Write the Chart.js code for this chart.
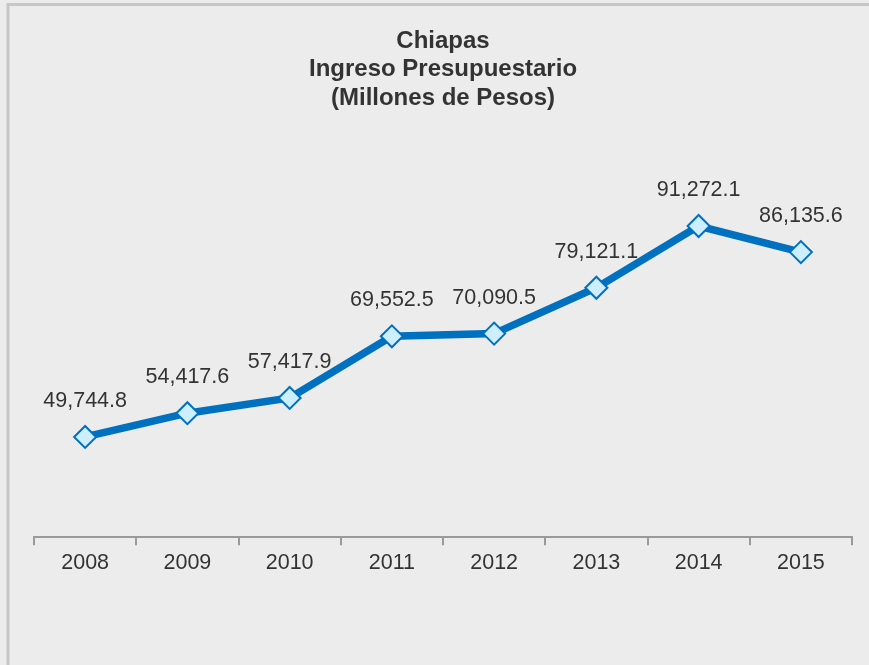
<!DOCTYPE html>
<html>
<head>
<meta charset="utf-8">
<script src="https://cdn.jsdelivr.net/npm/chart.js@4.4.1/dist/chart.umd.min.js"></script>
<style>
  html, body { margin: 0; padding: 0; background: #ececec; }
  #wrap { width: 869px; height: 665px; }
</style>
</head>
<body>
<div id="wrap"><canvas id="chiapas_chart" width="869" height="665"></canvas></div>
<script>
const years = ["2008", "2009", "2010", "2011", "2012", "2013", "2014", "2015"];
const ingreso = [49744.8, 54417.6, 57417.9, 69552.5, 70090.5, 79121.1, 91272.1, 86135.6];
const titleLines = ["Chiapas", "Ingreso Presupuestario", "(Millones de Pesos)"];

// fondo gris y marco
const frame = {
  id: "frame",
  beforeDraw(chart) {
    const ctx = chart.ctx;
    ctx.save();
    ctx.fillStyle = "#ececec";
    ctx.fillRect(0, 0, chart.width, chart.height);
    ctx.strokeStyle = "#c6c6c6";
    ctx.lineWidth = 3;
    ctx.strokeRect(8, 4.5, chart.width + 20, chart.height + 20);
    ctx.restore();
  }
};

// etiquetas de valor sobre cada punto
const valueLabels = {
  id: "valueLabels",
  afterDatasetsDraw(chart) {
    const ctx = chart.ctx;
    const meta = chart.getDatasetMeta(0);
    ctx.save();
    ctx.font = "21.5px 'Liberation Sans', Arial, sans-serif";
    ctx.fillStyle = "#333333";
    ctx.textAlign = "center";
    ctx.textBaseline = "middle";
    meta.data.forEach((pt, i) => {
      const v = ingreso[i].toLocaleString("en-US", {minimumFractionDigits: 1, maximumFractionDigits: 1});
      ctx.fillText(v, pt.x, pt.y - 36);
    });
    ctx.restore();
  }
};

new Chart("chiapas_chart", {
  type: "line",
  data: {
    labels: years,
    datasets: [{
      data: ingreso,
      borderColor: "#0070c0",
      borderWidth: 7.5,
      tension: 0,
      pointStyle: "rectRot",
      pointRadius: 11,
      pointHoverRadius: 11,
      pointBackgroundColor: "#cdeefc",
      pointBorderColor: "#0070c0",
      pointBorderWidth: 2
    }]
  },
  options: {
    responsive: false,
    animation: false,
    layout: { padding: { left: 34, right: 17, top: 0, bottom: 84 } },
    plugins: {
      legend: { display: false },
      tooltip: { enabled: false },
      title: {
        display: true,
        text: titleLines,
        color: "#333333",
        font: { family: "'Liberation Sans', Arial, sans-serif", size: 24, weight: "bold", lineHeight: 1.19 },
        padding: { top: 27, bottom: 69 }
      }
    },
    scales: {
      x: {
        offset: true,
        border: { display: true, color: "#9a9a9a", width: 2 },
        grid: { display: true, offset: true, drawOnChartArea: false, drawTicks: true, tickLength: 8, color: "#9a9a9a", lineWidth: 2 },
        ticks: { color: "#333333", padding: 5, font: { family: "'Liberation Sans', Arial, sans-serif", size: 21.5 } }
      },
      y: {
        display: false,
        min: 30000,
        max: 100000
      }
    }
  },
  plugins: [frame, valueLabels]
});
</script>
</body>
</html>
